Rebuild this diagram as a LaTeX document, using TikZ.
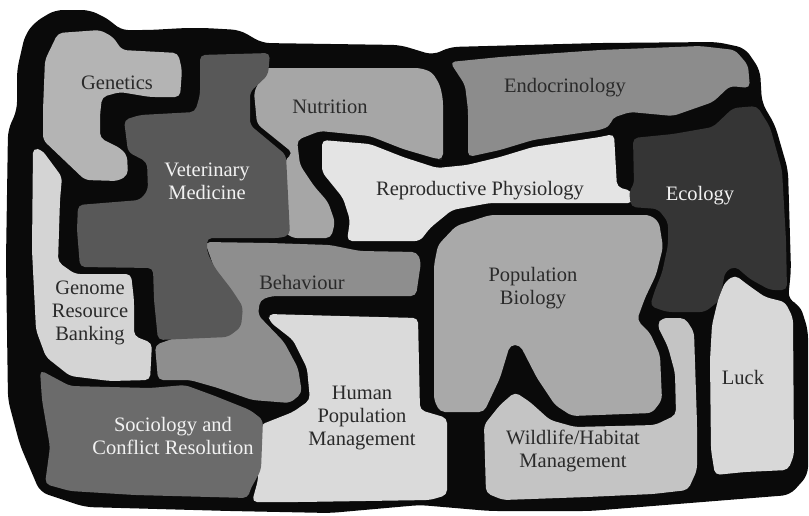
\documentclass[tikz,border=0pt]{standalone}
\usepackage{fontspec}
\setmainfont{Liberation Serif}
\definecolor{cblack}{HTML}{0A0A0A}
\definecolor{cgen}{HTML}{B4B4B4}
\definecolor{cvet}{HTML}{585858}
\definecolor{cnut}{HTML}{A6A6A6}
\definecolor{cendo}{HTML}{8C8C8C}
\definecolor{crepro}{HTML}{E4E4E4}
\definecolor{ceco}{HTML}{353535}
\definecolor{cgenome}{HTML}{D4D4D4}
\definecolor{cbeh}{HTML}{8E8E8E}
\definecolor{cpop}{HTML}{A9A9A9}
\definecolor{cluck}{HTML}{D8D8D8}
\definecolor{csoc}{HTML}{6B6B6B}
\definecolor{chum}{HTML}{DADADA}
\definecolor{cwild}{HTML}{C4C4C4}
\definecolor{cdark}{HTML}{2A2A2A}
\definecolor{clight}{HTML}{F2F2F2}
\tikzset{
  region/.style={rounded corners=5pt},
  lab/.style={font=\fontsize{20.5}{23}\selectfont, align=center, inner sep=0pt, text=cdark},
  wlab/.style={lab, text=clight}
}
\begin{document}
\begin{tikzpicture}[x=1pt,y=-1pt]
\useasboundingbox (0,0) rectangle (809,515);
\fill[white] (0,0) rectangle (809,515);
% outer black blob
\fill[cblack, rounded corners=8pt] (35,22) -- (55,10) -- (90,10) -- (110,20) -- (120,30) -- (150,30) -- (185,28) -- (205,28) -- (240,30) -- (262,43) -- (400,45) -- (433,55) -- (450,47) -- (600,43) -- (717,42) -- (745,48) -- (760,70) -- (762,103) -- (775,125) -- (788,170) -- (791,270) -- (788,300) -- (800,305) -- (808,330) -- (808,475) -- (790,495) -- (690,503) -- (590,511) -- (490,511) -- (420,505) -- (330,513) -- (230,511) -- (85,507) -- (40,492) -- (20,445) -- (8,400) -- (6,260) -- (8,130) -- (17,110) -- (17,70) -- (25,35) -- cycle;
% Genetics
\fill[cgen, region] (58,33) -- (100,30) -- (113,37) -- (122,50) -- (178,53) -- (182,70) -- (180,97) -- (150,97) -- (120,92) -- (102,97) -- (100,115) -- (100,138) -- (120,148) -- (127,155) -- (128,175) -- (118,181) -- (85,180) -- (43,140) -- (43,110) -- (45,60) -- cycle;
% Genome Resource Banking
\fill[cgenome, region] (33,148) -- (42,150) -- (62,177) -- (60,200) -- (58,262) -- (75,274) -- (131,274) -- (134,300) -- (134,336) -- (152,343) -- (150,380) -- (110,381) -- (70,376) -- (46,357) -- (36,330) -- (32,250) -- cycle;
% Nutrition
\fill[cnut, region] (250,68) -- (420,68) -- (432,72) -- (440,85) -- (443,100) -- (443,159) -- (437,159) -- (403,149) -- (370,136) -- (320,131) -- (297,140) -- (300,165) -- (314,186) -- (328,202) -- (335,222) -- (331,238) -- (292,238) -- (285,232) -- (285,160) -- (293,153) -- (257,124) -- (254,92) -- (262,76) -- cycle;
% Behaviour
\fill[cbeh, region] (205,242) -- (270,243) -- (330,245) -- (360,251) -- (417,252) -- (421,262) -- (416,296) -- (340,296) -- (272,296) -- (260,300) -- (258,315) -- (284,342) -- (298,368) -- (302,393) -- (290,403) -- (252,400) -- (218,388) -- (190,380) -- (158,380) -- (155,345) -- (175,338) -- (215,320) -- (215,270) -- cycle;
% Veterinary Medicine
\fill[cvet, region] (200,55) -- (270,53) -- (268,75) -- (250,92) -- (250,125) -- (286,155) -- (290,235) -- (280,238) -- (207,238) -- (207,252) -- (215,268) -- (232,290) -- (243,307) -- (241,327) -- (228,337) -- (158,340) -- (154,300) -- (153,268) -- (80,267) -- (77,230) -- (78,205) -- (140,200) -- (148,190) -- (147,162) -- (128,152) -- (124,120) -- (140,115) -- (195,112) -- (200,95) -- cycle;
% Reproductive Physiology
\fill[crepro, region] (322,140) -- (370,144) -- (403,157) -- (437,168) -- (467,165) -- (500,157) -- (533,147) -- (600,137) -- (614,134) -- (617,187) -- (632,191) -- (633,203) -- (490,203) -- (452,210) -- (430,228) -- (420,241) -- (347,241) -- (350,220) -- (343,198) -- (322,172) -- cycle;
% Endocrinology
\fill[cendo, region] (450,62) -- (500,57) -- (600,50) -- (700,46) -- (735,50) -- (748,65) -- (750,88) -- (730,86) -- (713,102) -- (673,116) -- (630,112) -- (612,118) -- (610,126) -- (600,130) -- (533,140) -- (500,150) -- (468,157) -- (468,110) -- (465,85) -- cycle;
% Ecology
\fill[ceco, region] (633,138) -- (673,134) -- (713,127) -- (733,108) -- (757,106) -- (770,127) -- (782,170) -- (786,240) -- (787,290) -- (770,290) -- (750,279) -- (735,266) -- (725,272) -- (720,300) -- (705,312) -- (667,312) -- (650,306) -- (655,290) -- (662,273) -- (668,245) -- (668,222) -- (658,209) -- (631,207) -- (629,191) -- (634,185) -- cycle;
% Population Biology
\fill[cpop, region] (490,215) -- (650,215) -- (659,222) -- (663,247) -- (656,275) -- (645,298) -- (637,320) -- (650,333) -- (660,355) -- (662,400) -- (652,413) -- (572,416) -- (555,405) -- (537,378) -- (520,345) -- (510,345) -- (500,378) -- (484,412) -- (440,412) -- (434,400) -- (434,265) -- (438,245) -- (456,226) -- cycle;
% Wildlife/Habitat Management
\fill[cwild, region] (484,425) -- (500,405) -- (515,392) -- (530,402) -- (550,420) -- (575,427) -- (655,425) -- (676,415) -- (675,373) -- (668,347) -- (657,325) -- (662,318) -- (685,318) -- (694,332) -- (697,423) -- (697,470) -- (688,490) -- (653,494) -- (587,497) -- (503,500) -- (486,493) -- cycle;
% Luck
\fill[cluck, region] (712,325) -- (718,300) -- (725,282) -- (735,275) -- (748,285) -- (765,297) -- (785,302) -- (793,318) -- (794,455) -- (788,470) -- (745,472) -- (715,475) -- (711,450) -- (710,360) -- cycle;
% Human Population Management
\fill[chum, region] (268,314) -- (340,316) -- (418,318) -- (420,410) -- (447,418) -- (447,495) -- (430,500) -- (300,502) -- (252,502) -- (258,480) -- (260,425) -- (293,412) -- (310,400) -- (307,368) -- (293,340) -- (270,322) -- cycle;
% Sociology and Conflict Resolution
\fill[csoc, region] (40,370) -- (70,386) -- (150,388) -- (185,385) -- (215,396) -- (250,410) -- (263,420) -- (261,470) -- (250,490) -- (248,498) -- (135,495) -- (70,491) -- (45,484) -- (50,447) -- (42,400) -- cycle;
% labels
\node[lab] (genetics) at (117,83) {Genetics};
\node[lab] (nutrition) at (330,107) {Nutrition};
\node[lab] (endo) at (565,88) {Endocrinology};
\node[wlab] (vet) at (207,181) {Veterinary\\Medicine};
\node[lab] (repro) at (480,191) {Reproductive Physiology};
\node[wlab] (eco) at (700,196) {Ecology};
\node[lab] (genome) at (90,313) {Genome\\Resource\\Banking};
\node[lab] (beh) at (302,282) {Behaviour};
\node[lab] (pop) at (533,288) {Population\\Biology};
\node[lab] (luck) at (743,377) {Luck};
\node[wlab] (soc) at (173,436) {Sociology and\\Conflict Resolution};
\node[lab] (human) at (362,418) {Human\\Population\\Management};
\node[lab] (wild) at (573,451) {Wildlife/Habitat\\Management};
\end{tikzpicture}
\end{document}
